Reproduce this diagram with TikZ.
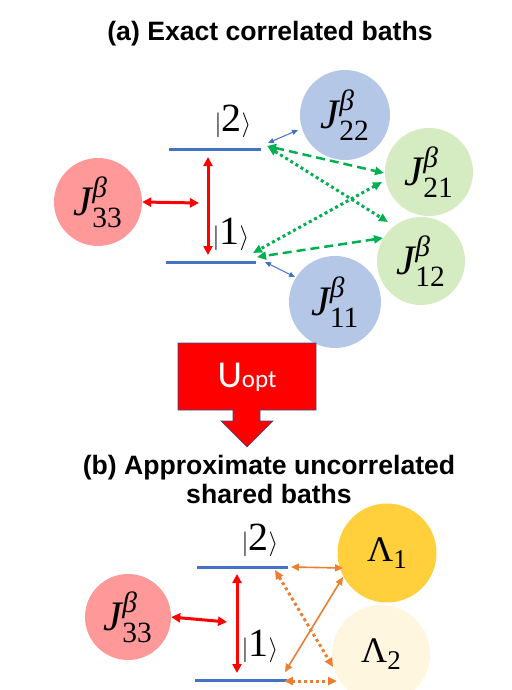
\documentclass[tikz,border=0pt]{standalone}
\usepackage{amsmath}
\usepackage{fontspec}
\setmainfont{Liberation Serif}
\newfontfamily\arialf{Liberation Sans}
\newfontfamily\calf{Carlito}
\newfontfamily\tnr{Liberation Serif}
\usetikzlibrary{arrows.meta}
\definecolor{levblue}{HTML}{4472C4}
\definecolor{bathblue}{HTML}{B4C7E7}
\definecolor{bathgreen}{HTML}{D5EBC2}
\definecolor{bathpink}{HTML}{FF9999}
\definecolor{lamgold}{HTML}{FFD03C}
\definecolor{lamcream}{HTML}{FFF6DF}
\definecolor{arrgreen}{HTML}{00B050}
\definecolor{arrorange}{HTML}{ED7D31}
\definecolor{outlineblue}{HTML}{2F528F}
\newcommand{\Jb}[1]{\fontsize{42}{44}\selectfont$\text{\tnr\itshape J}^{\text{\tnr\itshape β}}_{\text{\tnr #1}}$}
\newcommand{\ketx}[1]{\fontsize{40}{42}\selectfont$|\text{\tnr #1}\rangle$}
\newcommand{\Lam}[1]{\fontsize{36}{38}\selectfont\tnr Λ\raisebox{-7pt}{\fontsize{27}{29}\selectfont #1}}
\tikzset{
  bath/.style={circle, inner sep=0pt, minimum size=#1},
  level/.style={levblue, line width=3pt},
  redarr/.style={red, line width=3pt, {Triangle[length=9pt,width=9pt]}-{Triangle[length=9pt,width=9pt]}},
  bluearr/.style={levblue, line width=1pt, {Triangle[length=6pt,width=5pt]}-{Triangle[length=6pt,width=5pt]}},
  grdash/.style={arrgreen, line width=2.5pt, dash pattern=on 9pt off 5pt, {Triangle[length=9pt,width=8pt]}-{Triangle[length=9pt,width=8pt]}},
  grdot/.style={arrgreen, line width=3pt, dash pattern=on 3pt off 3pt, {Triangle[length=9pt,width=8pt]}-{Triangle[length=9pt,width=8pt]}},
  orsolid/.style={arrorange, line width=1.6pt, {Triangle[length=8pt,width=7pt]}-{Triangle[length=8pt,width=7pt]}},
  ordot/.style={arrorange, line width=3pt, dash pattern=on 3pt off 3pt, {Triangle[length=9pt,width=8pt]}-{Triangle[length=9pt,width=8pt]}},
  title/.style={font=\arialf\bfseries\fontsize{26.6}{29}\selectfont, align=center, inner sep=0pt},
  ketlab/.style={inner sep=0pt}
}
\begin{document}
\begin{tikzpicture}[x=1pt,y=-1pt]
\useasboundingbox (0,0) rectangle (511,690);
% ---------- (a) ----------
\node[title] (ta) at (270,34) {(a) Exact correlated baths};
\node[bath=88pt, fill=bathpink] (J33a) at (98,202) {\Jb{33}};
\node[bath=90pt, fill=bathblue] (J22) at (345,115) {\Jb{22}};
\node[bath=88pt, fill=bathgreen] (J21) at (429,172) {\Jb{21}};
\node[bath=88pt, fill=bathgreen] (J12) at (421,261) {\Jb{12}};
\node[bath=92pt, fill=bathblue] (J11) at (335,302) {\Jb{11}};
\coordinate (a2l) at (169,149); \coordinate (a2r) at (261,149);
\coordinate (a1l) at (166,262); \coordinate (a1r) at (256,262);
\draw[level] (a2l) -- (a2r);
\draw[level] (a1l) -- (a1r);
\node[ketlab] (k2a) at (233,121) {\ketx{2}};
\node[ketlab] (k1a) at (231,234) {\ketx{1}};
\coordinate (rv1) at (208,157); \coordinate (rv2) at (208,255);
\draw[redarr] (rv1) -- (rv2);
\coordinate (rh2) at (199,203);
\draw[redarr] (J33a.east) -- (rh2);
\coordinate (b22a) at (268,143); \coordinate (b22b) at (298,130);
\draw[bluearr] (b22a) -- (b22b);
\coordinate (b11a) at (265,262); \coordinate (b11b) at (295,277);
\draw[bluearr] (b11a) -- (b11b);
\coordinate (g2) at (267,146); \coordinate (g21) at (384,173);
\draw[grdash] (g2) -- (g21);
\coordinate (g2b) at (268,147); \coordinate (g12) at (388,222);
\draw[grdot] (g2b) -- (g12);
\coordinate (g12b) at (383,238); \coordinate (g1) at (257,257);
\draw[grdash] (g12b) -- (g1);
\coordinate (g21b) at (382,182); \coordinate (g1b) at (253,253);
\draw[grdot] (g21b) -- (g1b);
% ---------- U_opt arrow ----------
\fill[red, draw=outlineblue, line width=0.6pt] (178,343) -- (316,343) -- (316,410) -- (260,410) -- (260,421) -- (273,421) -- (247,447) -- (221,421) -- (233,421) -- (233,410) -- (178,410) -- cycle;
\node[text=white, inner sep=0pt, font=\calf] (U) at (247,377) {\fontsize{38}{40}\selectfont U\fontsize{25}{27}\selectfont opt};
% ---------- (b) ----------
\node[title] (tb) at (269,479) {(b) Approximate uncorrelated\\shared baths};
\node[bath=86pt, fill=bathpink] (J33b) at (128,617) {\Jb{33}};
\node[bath=99pt, fill=lamgold] (L1) at (387,553) {\Lam{1}};
\node[bath=98pt, fill=lamcream] (L2) at (381,654) {\Lam{2}};
\coordinate (b2l) at (197,567); \coordinate (b2r) at (288,567);
\coordinate (b1l) at (195,680); \coordinate (b1r) at (287,680);
\draw[level] (b2l) -- (b2r);
\draw[level] (b1l) -- (b1r);
\node[ketlab] (k2b) at (260,540) {\ketx{2}};
\node[ketlab] (k1b) at (260,646) {\ketx{1}};
\coordinate (rbv1) at (237,574); \coordinate (rbv2) at (237,673);
\draw[redarr] (rbv1) -- (rbv2);
\coordinate (rbh2) at (227,622);
\draw[redarr] (J33b.east) -- (rbh2);
\coordinate (o2) at (291,567); \coordinate (oL1) at (343,568);
\draw[orsolid] (o2) -- (oL1);
\coordinate (oL1b) at (343,577); \coordinate (o1) at (285,672);
\draw[orsolid] (oL1b) -- (o1);
\coordinate (o2b) at (275,570); \coordinate (oL2) at (333,667);
\draw[ordot] (o2b) -- (oL2);
\coordinate (o1b) at (284,681); \coordinate (oL2b) at (337,681);
\draw[ordot] (o1b) -- (oL2b);
\end{tikzpicture}
\end{document}
